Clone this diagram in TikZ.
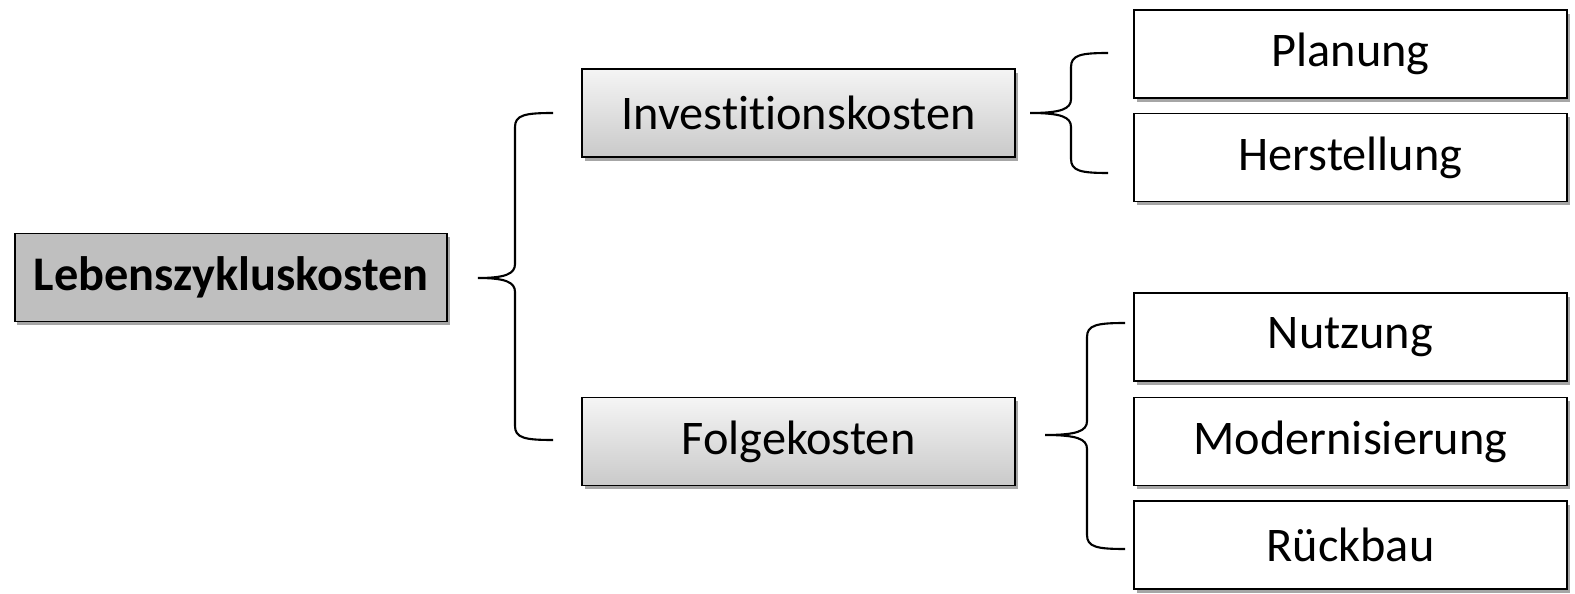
\documentclass[tikz,border=0pt]{standalone}
\usepackage{fontspec}
\setmainfont{Carlito}[Ligatures=NoCommon]
\usetikzlibrary{shadows}

\tikzset{
  kbox/.style={draw,line width=1.1pt,minimum width=8.66cm,minimum height=1.76cm,
    inner sep=0pt,font=\fontsize{27.5}{32}\selectfont,
    drop shadow={shadow xshift=1.5pt,shadow yshift=-2pt,opacity=0.35,fill=black}},
  rootbox/.style={kbox,fill=gray!50,font=\fontsize{27.5}{32}\selectfont\bfseries},
  midbox/.style={kbox,top color=gray!8,bottom color=gray!42},
  leafbox/.style={kbox,fill=white},
  bracket/.style={line width=1.2pt}
}
% curly bracket: tip x, tip y, spine x, top y, bottom y, end x
\newcommand{\curly}[6]{%
  \draw[bracket] (#6,#4) .. controls ({#3+10},#4) and (#3,{#4+2}) .. (#3,{#4+14})
    -- (#3,{#2-14}) .. controls (#3,{#2-4}) and ({#3-10},#2) .. (#1,#2)
    .. controls ({#3-10},#2) and (#3,{#2+4}) .. (#3,{#2+14})
    -- (#3,{#5-14}) .. controls (#3,{#5-2}) and ({#3+10},#5) .. (#6,#5);}

\begin{document}
\begin{tikzpicture}[x=0.02cm,y=-0.02cm]
  \useasboundingbox (0,0) rectangle (1575,594);

  \node[rootbox] (LZK) at (231,277.5) {Lebenszykluskosten};
  \node[midbox] (IK) at (798.5,113) {Investitionskosten};
  \node[midbox] (FK) at (798.5,441.5) {Folgekosten};
  \node[leafbox] (PL) at (1350.5,54) {Planung};
  \node[leafbox] (HS) at (1350.5,157.5) {Herstellung};
  \node[leafbox] (NU) at (1350.5,337) {Nutzung};
  \node[leafbox] (MO) at (1350.5,441.5) {Modernisierung};
  \node[leafbox] (RB) at (1350.5,545) {Rückbau};

  \curly{478}{278}{515}{113}{440}{553}
  \curly{1030}{113}{1071}{53}{173}{1108}
  \curly{1045}{435}{1087}{323}{549}{1125}
\end{tikzpicture}
\end{document}
